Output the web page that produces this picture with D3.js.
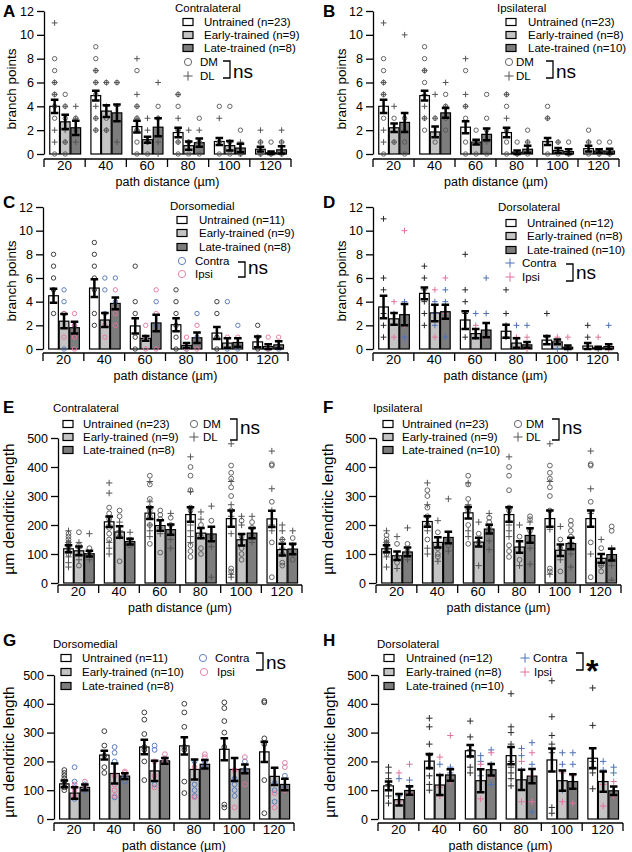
<!DOCTYPE html>
<html><head><meta charset="utf-8">
<script src="https://cdn.jsdelivr.net/npm/d3@7"></script>
<style>
html,body{margin:0;padding:0;background:#fff;}
svg{display:block;font-family:Arial,"Liberation Sans",sans-serif;}
</style></head>
<body><svg id="fig" width="632" height="852"></svg>
<script>
// ---------- shared categories / ticks ----------
const distances = [20, 40, 60, 80, 100, 120];
const groupNames = ["Untrained", "Early-trained", "Late-trained"];
const branchTicks = [0, 2, 4, 6, 8, 10, 12];
const lengthTicks = [0, 100, 200, 300, 400, 500];

// ---------- A: contralateral branch points ----------
const aN = [23, 9, 8];
const aMean = [[4.0,4.9,2.3,1.8,1.05,0.4],[2.7,3.6,1.2,0.7,0.7,0.1],[2.2,3.45,2.25,0.95,0.5,0.35]];
const aSem  = [[0.55,0.4,0.5,0.4,0.3,0.2],[0.6,0.5,0.25,0.35,0.4,0.1],[0.6,0.7,0.75,0.35,0.35,0.3]];
const aDM = [
  [[8,7,6,5,4,3,0],[9,8,7,6,5,3,2],[7,4,3,2,1,0],[5,4,2,1,0],[4,1,0],[1,0]],
  [[5,4,3,1,0],[6,3,2],[1,0],[1,0],[4,1,0],[1,0]],
  [[3,2],[6],[4,3],[3,1,0],[2,0],[1,0]]];
const aDL = [
  [[11,6,5,4,2,1],[7,6,4,3,2],[8,5,4,3,2],[5,3,2,1],[3,1],[2,1,0]],
  [[4,2,1],[6,4,2],[3,2,1],[2,1],[1],[0]],
  [[4,3,1],[6,4,1],[6,3,1,0],[2,1],[1,0],[2,1,0]]];

// ---------- B: ipsilateral branch points ----------
const bN = [23, 8, 10];
const bMean = [[4.0,4.9,2.25,1.8,1.05,0.45],[2.2,1.85,1.0,0.15,0.3,0.25],[2.65,3.45,1.65,0.4,0.2,0.25]];
const bSem  = [[0.55,0.4,0.5,0.4,0.3,0.25],[0.35,0.45,0.2,0.15,0.2,0.15],[0.8,0.4,0.5,0.3,0.2,0.2]];
const bDM = [
  [[8,7,6,5,3,0],[9,8,7,6,3,2],[7,4,3,1,0],[5,4,2,1,0],[4,3,0],[2,1,0]],
  [[3,1],[3,1],[2,1,0],[1,0],[1,0],[1,0]],
  [[3,1,0],[5,4,3,2],[5,3,2,0],[2,1,0],[1,0],[1,0]]];
const bDL = [
  [[11,6,5,4,2,1],[7,5,4,3],[8,5,4],[5,3],[3,1],[1]],
  [[4,1],[5,3],[1],[0],[1],[0]],
  [[10,2],[6,4],[1],[1],[0],[0]]];

// ---------- C: dorsomedial branch points ----------
const cN = [11, 9, 8];
const cMean = [[4.5,5.15,1.95,2.05,1.35,0.6],[2.35,2.45,0.9,0.3,0.5,0.2],[1.8,3.85,2.2,0.95,0.55,0.35]];
const cSem  = [[0.6,0.75,0.65,0.55,0.5,0.45],[0.6,0.6,0.2,0.2,0.4,0.2],[0.5,0.5,0.7,0.45,0.35,0.3]];
const cUnt = [[8,7,6,5,3],[9,8,7,6,5,3,2],[7,4,3,1,0],[5,4,3,2,1,0],[4,3,1,0],[2,1,0]];
const cContra = [
  [[5,4,3,0],[6,5,3],[1],[0],[4,0],[0]],
  [[2],[6,4],[4,2],[3,1],[2,0],[0]]];
const cIpsi = [
  [[3,1],[2,1],[2,1,0],[1,0],[1],[1,0]],
  [[3,2,1,0],[5,3,2],[5,3,0],[2,0],[1],[1]]];

// ---------- D: dorsolateral branch points ----------
const dN = [12, 8, 10];
const dMean = [[3.55,4.7,2.45,1.5,0.75,0.25],[2.55,3.05,1.3,0.5,0.6,0.1],[2.9,3.15,1.6,0.35,0.15,0.2]];
const dSem  = [[0.95,0.5,0.75,0.55,0.35,0.25],[0.5,0.7,0.4,0.4,0.2,0.1],[0.9,0.6,0.6,0.25,0.15,0.2]];
const dUnt = [[11,6,5,3,2,1],[7,6,5,4,3,2],[8,5,4,3,1],[5,3,2,1],[3,1],[2,1]];
const dContra = [
  [[3],[4,3,2],[3,1],[2],[0],[0]],
  [[4,1],[5,4,1],[6,3],[2],[0],[2]]];
const dIpsi = [
  [[4,1],[5,1],[2],[1],[1],[1]],
  [[10,2],[6,3],[1],[1,0],[1],[0]]];

// ---------- E: contralateral dendritic length ----------
const eN = [23, 9, 8];
const eMean = [[118,211,241,236,222,221],[111,176,198,172,149,115],[101,143,184,169,172,117]];
const eSem  = [[12,18,20,25,28,28],[15,20,18,18,20,20],[10,10,18,25,18,18]];
const eDM = [
  [[170,160,150,140,130,120,110,100],[260,240,220,190,170,150],[370,340,290,260,250,230,200,135],[400,370,320,260,250,130,110,90],[405,380,360,330,300,250,50,40],[410,405,280,140,20]],
  [[175,130,60],[250,230,160,75],[250,235,220,105],[200,160,120,100],[215,160,120,100,80],[150,100,70,60]],
  [[120,100],[150,130],[225,200],[215,160],[210,190,160],[155,100,80]]];
const eDL = [
  [[180,140,90,70,55],[345,310,200,140,120,100],[350,280,200,180,160],[435,315,200,180,160,140],[480,350,270,230,170,30,20],[455,325,250,200,180]],
  [[140,120,100,80],[210,180],[190,170],[245,220],[230,200],[200,180,150,120,100]],
  [[170,80],[175],[240,150,120],[265,125,20],[230,140],[180,130]]];

// ---------- F: ipsilateral dendritic length ----------
const fN = [23, 9, 10];
const fMean = [[118,212,242,236,222,222],[94,140,141,124,113,85],[107,157,186,164,136,98]];
const fSem  = [[12,18,20,25,28,28],[15,18,15,20,20,15],[15,20,15,25,20,20]];
const fDM = [
  [[165,150,140,130,120,110,100],[320,300,260,230,200,150],[370,340,290,260,250,200,135],[400,370,320,260,250,130,110,90],[405,380,360,330,300,250,50,40],[410,405,280,140,20]],
  [[135,90,70],[175,120,100,90],[170,140],[160,80],[150,120,40],[120,60,40]],
  [[135,110],[150,130],[225,210,195,180],[230,220,180],[215,200,180,160],[195,180,80]]];
const fDL = [
  [[180,140,90,55],[345,270,180,120,100],[345,270,180,160],[435,200,180,160],[480,350,185,30],[455,325,240,100]],
  [[160,50],[215,75],[210,60],[200,60],[195,80],[150,60]],
  [[190,80],[290,110],[240,145,115],[210,120,65],[140,100,55],[120,60,10]]];

// ---------- G: dorsomedial dendritic length ----------
const gN = [11, 10, 8];
const gMean = [[122,222,250,254,242,233],[90,158,167,172,172,148],[110,149,202,190,174,120]];
const gSem  = [[12,15,25,30,38,35],[20,35,35,35,40,30],[10,10,10,15,15,20]];
const gUnt = [[170,160,150,140,130,120,110,100],[305,255,220,180,160],[370,345,295,250,240,200,135],[400,370,320,250,240,130,90],[405,385,340,300,250,50,40],[410,405,280,260,135,20]];
const gContra = [
  [[180,130,110,70],[250,230,200,75],[255,240,120],[200,120,100,80],[140,120,100,80],[125,100,60]],
  [[120,100],[150,130],[210],[200,180],[200,170],[150,110]]];
const gIpsi = [
  [[120,100,80],[150,120,100,80],[200,150,110],[180,75],[170,40],[90,40]],
  [[130,115],[165,160],[225,200],[225,215],[215,120],[195,180,100]]];

// ---------- H: dorsolateral dendritic length ----------
const hN = [12, 8, 10];
const hMean = [[115,201,237,220,205,211],[67,118,133,136,133,130],[99,153,171,149,130,98]];
const hSem  = [[15,25,20,30,40,35],[20,35,40,35,35,35],[15,20,20,25,25,15]];
const hUnt = [[180,160,140,120,100,80,55],[350,320,260,220,180,150,120,100],[340,285,240,220,180,160],[435,320,300,260,200,180,160,140,115],[480,355,290,260,230,40,20],[455,325,200,180,160,105]];
const hContra = [
  [[140,80],[190,150],[220,200,150],[245,220,170],[230,190,100],[200,170]],
  [[135,110],[180,160],[240,190,120],[265,190,25],[230,190],[180,160]]];
const hIpsi = [
  [[160,60],[215,110,80],[190,70],[200,60],[160,60],[120,45]],
  [[190,90],[290,130],[230,150],[230,150,60],[150,55],[130,80]]];

// ---------- styles ----------
const barFill = ["#ffffff", "#c4c4c4", "#7d7d7d"];
const gray = "#555555", dark = "#2a2a2a", blue = "#4d72b8", pink = "#e2739f";
const FONT = 'Arial,"Liberation Sans",sans-serif';
const LEG = 11.5;

const svg = d3.select("#fig");

function marker(g, shape, x, y, color, size) {
  if (shape === "circle") {
    g.append("circle").attr("cx", x).attr("cy", y).attr("r", size)
      .attr("fill", "none").attr("stroke", color).attr("stroke-width", 0.9);
  } else {
    const h = size + 0.6;
    g.append("path").attr("d", `M${x-h},${y}H${x+h}M${x},${y-h}V${y+h}`)
      .attr("stroke", color).attr("stroke-width", 1).attr("fill", "none");
  }
}

function drawPanel(cfg, means, sems, pointSets, ns) {
  const g = svg.append("g");
  const gx = d3.scaleBand().domain(distances).range([cfg.x0, cfg.x1]).paddingInner(0).paddingOuter(0);
  const bw = gx.bandwidth();
  const bx = d3.scaleBand().domain([0, 1, 2]).range([bw * 0.14, bw * 0.89]).paddingInner(0.08);
  const y = d3.scaleLinear().domain([0, cfg.max]).range([cfg.yZero, cfg.yTop]);

  // y axis
  const ya = g.append("g").attr("transform", `translate(${cfg.x0},0)`)
    .call(d3.axisLeft(y).tickValues(cfg.ticks).tickSize(7).tickSizeOuter(0).tickPadding(3));
  ya.select(".domain").attr("stroke", "#000").attr("stroke-width", 1.3);
  ya.selectAll(".tick line").attr("stroke", "#000").attr("stroke-width", 1.3);
  ya.selectAll("text").attr("font-size", 12.5).attr("font-family", FONT).attr("fill", "#000");

  // x axis (boundary ticks, centred labels)
  g.append("line").attr("x1", cfg.x0).attr("x2", cfg.x1).attr("y1", cfg.axisY).attr("y2", cfg.axisY)
    .attr("stroke", "#000").attr("stroke-width", 1.3);
  const bounds = distances.map(d => gx(d)).concat([gx(distances[distances.length - 1]) + bw]);
  g.selectAll(".xt").data(bounds).enter().append("line")
    .attr("x1", d => d).attr("x2", d => d).attr("y1", cfg.axisY).attr("y2", cfg.axisY + 8)
    .attr("stroke", "#000").attr("stroke-width", 1.3);
  g.selectAll(".xl").data(distances).enter().append("text")
    .attr("x", d => gx(d) + bw / 2).attr("y", cfg.axisY + 11).attr("text-anchor", "middle")
    .attr("font-size", 13.5).attr("font-family", FONT).text(d => d);
  g.append("text").attr("x", (cfg.x0 + cfg.x1) / 2).attr("y", cfg.axisY + 27)
    .attr("text-anchor", "middle").attr("font-size", 12.5).attr("font-family", FONT)
    .text("path distance (µm)");

  // y label
  g.append("text").attr("transform", `translate(${cfg.ylx},${cfg.yly}) rotate(-90)`)
    .attr("text-anchor", "middle").attr("font-size", cfg.ylSize).attr("font-family", FONT)
    .text(cfg.ylabel);

  // panel letter
  g.append("text").attr("x", cfg.letter[0]).attr("y", cfg.letter[1]).attr("font-size", 17)
    .attr("font-weight", "bold").attr("font-family", FONT).text(cfg.id);

  // bars
  const cx = (gi, di) => gx(distances[di]) + bx(gi) + bx.bandwidth() / 2;
  means.forEach((row, gi) => row.forEach((m, di) => {
    g.append("rect").attr("x", gx(distances[di]) + bx(gi)).attr("width", bx.bandwidth())
      .attr("y", y(m)).attr("height", y(0) - y(m))
      .attr("fill", barFill[gi]).attr("stroke", "#000").attr("stroke-width", 1.2);
  }));

  // points
  pointSets.forEach(ps => {
    ps.data.forEach((byDist, k) => {
      const gi = ps.groups[k];
      byDist.forEach((vals, di) => vals.forEach(v => {
        marker(g, ps.shape, cx(gi, di), y(v), ps.color, ps.shape === "circle" ? cfg.r : cfg.p);
      }));
    });
  });

  // error bars
  means.forEach((row, gi) => row.forEach((m, di) => {
    const s = sems[gi][di], x = cx(gi, di);
    const lo = y(Math.max(0, m - s)), hi = y(m + s);
    g.append("path").attr("d", `M${x},${lo}V${hi}M${x-3.8},${hi}H${x+3.8}M${x-3.8},${lo}H${x+3.8}`)
      .attr("stroke", "#000").attr("stroke-width", 2.5).attr("fill", "none");
  }));

  // legend
  const L = cfg.legend;
  g.append("text").attr("x", L.title[0]).attr("y", L.title[1]).attr("font-size", LEG)
    .attr("font-family", FONT).text(L.titleText);
  groupNames.forEach((nm, gi) => {
    g.append("rect").attr("x", L.sx).attr("y", L.rows[gi] - 3.5).attr("width", 10).attr("height", 7)
      .attr("fill", barFill[gi]).attr("stroke", "#000").attr("stroke-width", 1.2);
    g.append("text").attr("x", L.tx).attr("y", L.rows[gi] + 4.1).attr("font-size", LEG)
      .attr("font-family", FONT).text(`${nm} (n=${cfg.n[gi]})`);
  });
  L.sym.forEach(s => {
    marker(g, s.shape, s.x, s.y, s.color, s.shape === "circle" ? 3.6 : 4);
    g.append("text").attr("x", s.tx).attr("y", s.y + 4.1).attr("font-size", LEG)
      .attr("font-family", FONT).text(s.label);
  });
  const B = L.bracket;
  g.append("path").attr("d", `M${B.x-7},${B.y1}H${B.x}V${B.y2}H${B.x-7}`)
    .attr("stroke", "#000").attr("stroke-width", 1.3).attr("fill", "none");
  g.append("text").attr("x", B.x + 3).attr("y", B.ty).attr("font-size", ns.size)
    .attr("font-weight", ns.weight).attr("font-family", FONT).text(ns.text);
}

const nsMark = {text: "ns", size: 19, weight: "normal"};

// ---------- A ----------
drawPanel({id:"A", letter:[3,17], x0:44, x1:291, yTop:11, yZero:154, axisY:159, max:12, ticks:branchTicks,
  ylabel:"branch points", ylx:16, yly:89, ylSize:13.5, n:aN, r:2.2, p:2.3,
  legend:{titleText:"Contralateral", title:[175,12], sx:183, tx:204, rows:[22,35,48],
    sym:[{shape:"circle", x:188, y:62, color:gray, label:"DM", tx:200},
         {shape:"plus", x:188, y:76, color:gray, label:"DL", tx:200}],
    bracket:{x:230, y1:61, y2:78, ty:78}}},
  aMean, aSem,
  [{data:aDM, groups:[0,1,2], shape:"circle", color:gray},
   {data:aDL, groups:[0,1,2], shape:"plus", color:gray}], nsMark);

// ---------- B ----------
drawPanel({id:"B", letter:[323,17], x0:373, x1:619, yTop:11, yZero:154, axisY:159, max:12, ticks:branchTicks,
  ylabel:"branch points", ylx:346, yly:89, ylSize:13.5, n:bN, r:2.2, p:2.3,
  legend:{titleText:"Ipsilateral", title:[497,12], sx:506, tx:528, rows:[22,35,48],
    sym:[{shape:"circle", x:509, y:62, color:gray, label:"DM", tx:516},
         {shape:"plus", x:509, y:76, color:gray, label:"DL", tx:516}],
    bracket:{x:553, y1:61, y2:78, ty:78}}},
  bMean, bSem,
  [{data:bDM, groups:[0,1,2], shape:"circle", color:gray},
   {data:bDL, groups:[0,1,2], shape:"plus", color:gray}], nsMark);

// ---------- C ----------
drawPanel({id:"C", letter:[3,208], x0:43, x1:288, yTop:207, yZero:349, axisY:353, max:12, ticks:branchTicks,
  ylabel:"branch points", ylx:16, yly:281, ylSize:13.5, n:cN, r:2.2, p:2.3,
  legend:{titleText:"Dorsomedial", title:[170,210], sx:177, tx:199, rows:[220,233,247],
    sym:[{shape:"circle", x:182, y:261, color:blue, label:"Contra", tx:195},
         {shape:"circle", x:182, y:274, color:pink, label:"Ipsi", tx:195}],
    bracket:{x:245, y1:262, y2:277, ty:274}}},
  cMean, cSem,
  [{data:[cUnt], groups:[0], shape:"circle", color:dark},
   {data:cContra, groups:[1,2], shape:"circle", color:blue},
   {data:cIpsi, groups:[1,2], shape:"circle", color:pink}], nsMark);

// ---------- D ----------
drawPanel({id:"D", letter:[323,208], x0:373, x1:618, yTop:207, yZero:349, axisY:353, max:12, ticks:branchTicks,
  ylabel:"branch points", ylx:346, yly:281, ylSize:13.5, n:dN, r:2.2, p:2.3,
  legend:{titleText:"Dorsolateral", title:[498,211], sx:506, tx:527, rows:[223,236,250],
    sym:[{shape:"plus", x:510, y:263, color:blue, label:"Contra", tx:522},
         {shape:"plus", x:510, y:277, color:pink, label:"Ipsi", tx:522}],
    bracket:{x:573, y1:264, y2:281, ty:279}}},
  dMean, dSem,
  [{data:[dUnt], groups:[0], shape:"plus", color:dark},
   {data:dContra, groups:[1,2], shape:"plus", color:blue},
   {data:dIpsi, groups:[1,2], shape:"plus", color:pink}], nsMark);

// ---------- E ----------
drawPanel({id:"E", letter:[3,413], x0:58, x1:302, yTop:438, yZero:583, axisY:585, max:500, ticks:lengthTicks,
  ylabel:"µm dendritic length", ylx:14, yly:509, ylSize:15.5, n:eN, r:2.4, p:2.6,
  legend:{titleText:"Contralateral", title:[53,412], sx:63, tx:83, rows:[424,437,450],
    sym:[{shape:"circle", x:194, y:424, color:gray, label:"DM", tx:203},
         {shape:"plus", x:194, y:437, color:gray, label:"DL", tx:203}],
    bracket:{x:237, y1:419, y2:440, ty:434}}},
  eMean, eSem,
  [{data:eDM, groups:[0,1,2], shape:"circle", color:gray},
   {data:eDL, groups:[0,1,2], shape:"plus", color:gray}], nsMark);

// ---------- F ----------
drawPanel({id:"F", letter:[323,413], x0:376, x1:621, yTop:438, yZero:583, axisY:585, max:500, ticks:lengthTicks,
  ylabel:"µm dendritic length", ylx:333, yly:509, ylSize:15.5, n:fN, r:2.4, p:2.6,
  legend:{titleText:"Ipsilateral", title:[373,412], sx:383, tx:402, rows:[424,437,450],
    sym:[{shape:"circle", x:518, y:424, color:gray, label:"DM", tx:526},
         {shape:"plus", x:518, y:437, color:gray, label:"DL", tx:526}],
    bracket:{x:559, y1:419, y2:440, ty:434}}},
  fMean, fSem,
  [{data:fDM, groups:[0,1,2], shape:"circle", color:gray},
   {data:fDL, groups:[0,1,2], shape:"plus", color:gray}], nsMark);

// ---------- G ----------
drawPanel({id:"G", letter:[3,646], x0:54, x1:294, yTop:675, yZero:819, axisY:823, max:500, ticks:lengthTicks,
  ylabel:"µm dendritic length", ylx:14, yly:752, ylSize:15.5, n:gN, r:2.4, p:2.6,
  legend:{titleText:"Dorsomedial", title:[53,648], sx:61, tx:82, rows:[658,672,686],
    sym:[{shape:"circle", x:203, y:658, color:blue, label:"Contra", tx:215},
         {shape:"circle", x:204, y:672, color:pink, label:"Ipsi", tx:217}],
    bracket:{x:263, y1:653, y2:670, ty:669}}},
  gMean, gSem,
  [{data:[gUnt], groups:[0], shape:"circle", color:dark},
   {data:gContra, groups:[1,2], shape:"circle", color:blue},
   {data:gIpsi, groups:[1,2], shape:"circle", color:pink}], nsMark);

// ---------- H ----------
drawPanel({id:"H", letter:[323,646], x0:378, x1:623, yTop:675, yZero:819, axisY:823, max:500, ticks:lengthTicks,
  ylabel:"µm dendritic length", ylx:335, yly:752, ylSize:15.5, n:hN, r:2.4, p:2.6,
  legend:{titleText:"Dorsolateral", title:[377,648], sx:384, tx:406, rows:[658,672,686],
    sym:[{shape:"plus", x:525, y:658, color:blue, label:"Contra", tx:533},
         {shape:"plus", x:525, y:672, color:pink, label:"Ipsi", tx:534}],
    bracket:{x:583, y1:653, y2:670, ty:682}}},
  hMean, hSem,
  [{data:[hUnt], groups:[0], shape:"plus", color:dark},
   {data:hContra, groups:[1,2], shape:"plus", color:blue},
   {data:hIpsi, groups:[1,2], shape:"plus", color:pink}], {text:"*", size:32, weight:"bold"});
</script></body></html>
